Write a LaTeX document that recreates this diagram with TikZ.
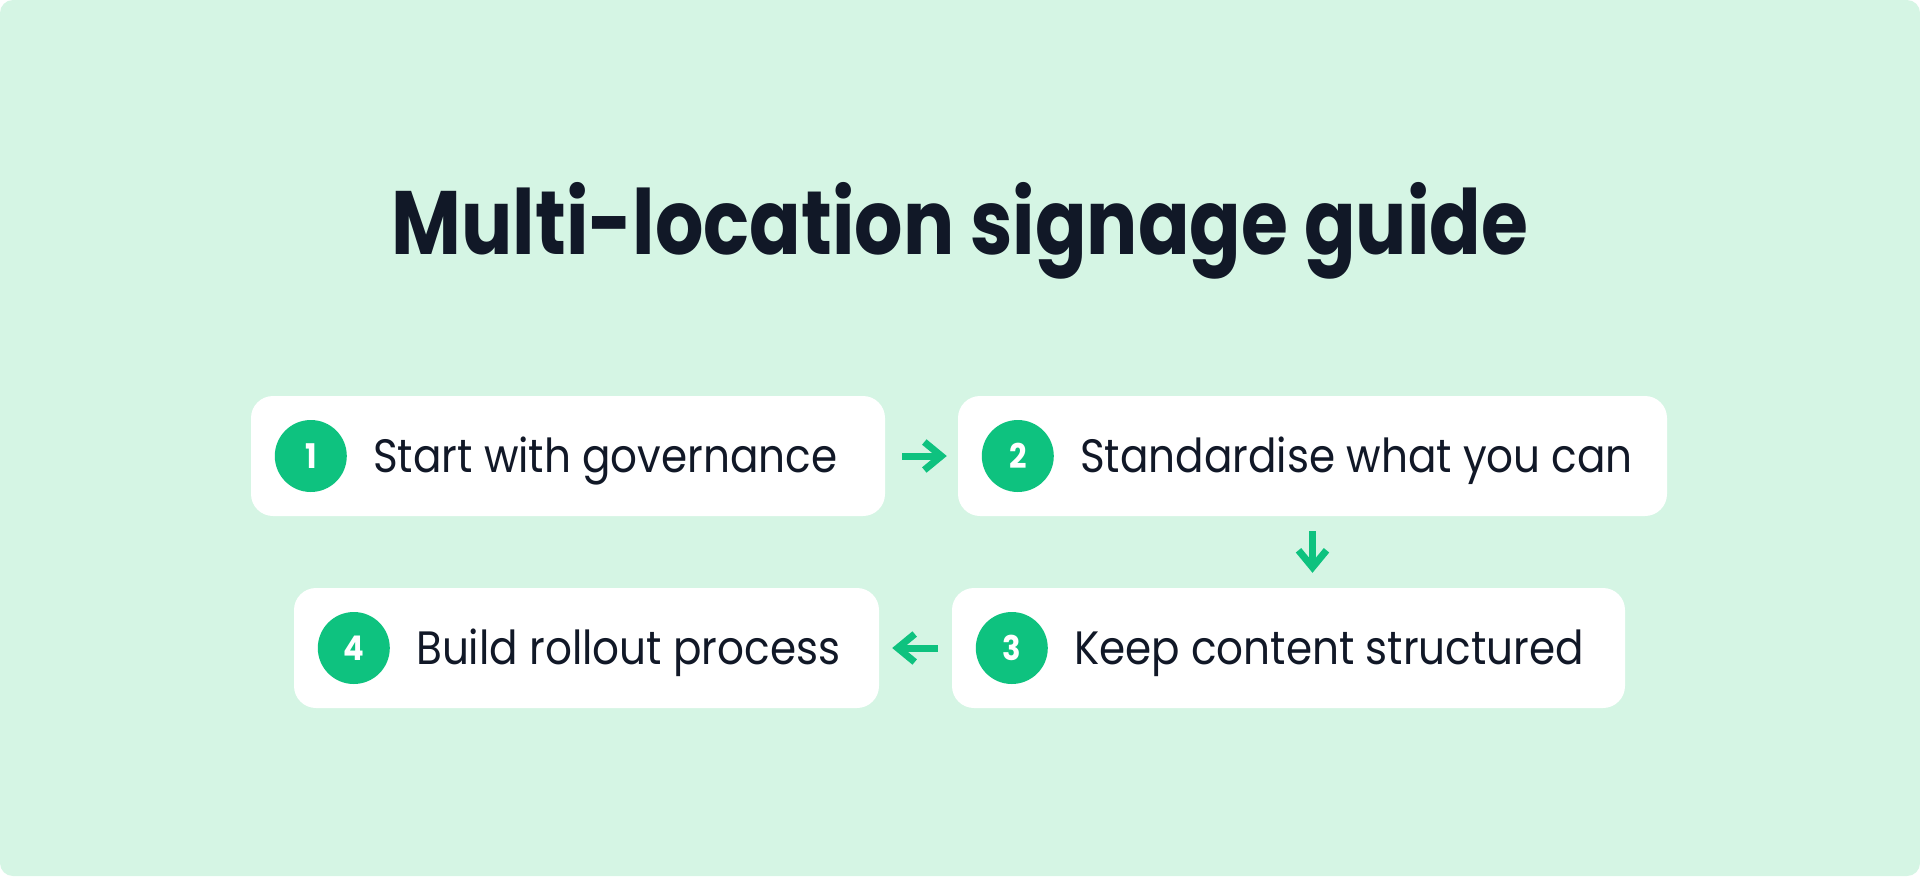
\documentclass[tikz,border=0pt]{standalone}
\usepackage{fontspec}
\setmainfont{Poppins}
\newfontfamily\titleFont[FakeStretch=0.845]{Poppins}
\newfontfamily\stepFont[FakeStretch=0.90]{Poppins}
\usetikzlibrary{arrows.meta,positioning}
\definecolor{bgGreen}{HTML}{D5F5E4}
\definecolor{stepGreen}{HTML}{0EC27F}
\definecolor{inkNavy}{HTML}{111827}
\newcommand{\myStep}[3]{%%
  %% Draw the white card.
  \node[boxStyle,minimum width=#3] (box#1) at (#2) {};
  %% Number badge, then the label beside it.
  \node[numStyle] (num#1) at ([xshift=60pt]box#1.west) {#1};
}
\newcommand{\myLabel}[2]{%%
  \node[labelStyle,right=26pt of num#1] (text#1) {#2};
}

\begin{document}
\begin{tikzpicture}[%%
  x=1pt,y=-1pt,
  boxStyle/.style={draw=none,fill=white,rounded corners=22pt,minimum height=120pt,inner sep=0pt},%%
  numStyle/.style={circle,fill=stepGreen,minimum size=72pt,inner sep=0pt,text=white,
    font=\stepFont\bfseries\fontsize{34}{34}\selectfont},%%
  labelStyle/.style={inner sep=0pt,text=inkNavy,text height=32.6pt,text depth=0pt,
    font=\stepFont\fontsize{46.8}{50}\selectfont},%%
  titleStyle/.style={anchor=base,inner sep=0pt,text=inkNavy,
    font=\titleFont\bfseries\fontsize{90}{96}\selectfont},%%
  arrowStyle/.style={-{Straight Barb[length=17pt,width=28pt]},line width=7pt,draw=stepGreen}
]
%%
%% Background panel.
\fill[white] (0,0) rectangle (1920,876);
\fill[bgGreen,rounded corners=13pt] (0,0) rectangle (1920,876);
\useasboundingbox (0,0) rectangle (1920,876);
%%
%% Title.
\node[titleStyle] (title) at (960,254) {Multi-location signage guide};
%%
%% The four steps.
\myStep{1}{568,456}{634pt}
\myLabel{1}{Start with governance}
\myStep{2}{1312.5,456}{709pt}
\myLabel{2}{Standardise what you can}
\myStep{3}{1288.5,648}{673pt}
\myLabel{3}{Keep content structured}
\myStep{4}{586.5,648}{585pt}
\myLabel{4}{Build rollout process}
%%
%% Arrows between the steps.
\draw[arrowStyle,shorten <=17pt,shorten >=11pt] (box1.east) -- (box2.west);
\draw[arrowStyle,shorten <=15pt,shorten >=15pt] (box2.south) -- (box2.south |- box3.north);
\draw[arrowStyle,shorten <=14pt,shorten >=13pt] (box3.west) -- (box4.east);

\end{tikzpicture}
\end{document}
